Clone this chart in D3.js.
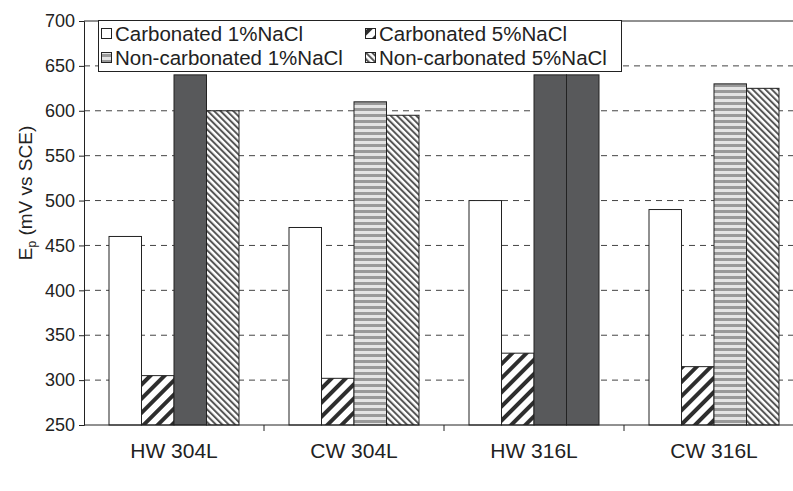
<!DOCTYPE html>
<html><head><meta charset="utf-8">
<script src="https://cdn.jsdelivr.net/npm/d3@7"></script>
<style>body{margin:0;background:#fff}svg{display:block;font-family:"Liberation Sans",Arial,sans-serif}</style>
</head><body><svg id="c" width="793" height="491"></svg>
<script>
const categories = ["HW 304L", "CW 304L", "HW 316L", "CW 316L"];
const seriesNames = ["Carbonated 1%NaCl", "Carbonated 5%NaCl", "Non-carbonated 1%NaCl", "Non-carbonated 5%NaCl"];
const carb1 = [460, 470, 500, 490];
const carb5 = [305, 302, 330, 315];
const noncarb1 = [640, 610, 640, 630];
const noncarb5 = [600, 595, 640, 625];
const yTicks = [250, 300, 350, 400, 450, 500, 550, 600, 650, 700];
const series = [carb1, carb5, noncarb1, noncarb5];

const svg = d3.select("#c");
const m = {l: 84, t: 21, r: 804, b: 425};
const x = d3.scaleBand().domain(categories).range([m.l, m.r]);
const xs = d3.scaleBand().domain(d3.range(4)).range([25, 155]);
const y = d3.scaleLinear().domain([250, 700]).range([m.b, m.t]);

const defs = svg.append("defs");
const p1 = defs.append("pattern").attr("id","pw").attr("patternUnits","userSpaceOnUse")
  .attr("width",10).attr("height",10).attr("patternTransform","rotate(45)");
p1.append("rect").attr("width",10).attr("height",10).attr("fill","#fff");
p1.append("rect").attr("width",4).attr("height",10).attr("fill","#2e2e2e");
const p2 = defs.append("pattern").attr("id","ph").attr("patternUnits","userSpaceOnUse")
  .attr("width",6).attr("height",6);
p2.append("rect").attr("width",6).attr("height",6).attr("fill","#e4e4e4");
p2.append("rect").attr("width",6).attr("height",3).attr("fill","#9a9a9a");
const p3 = defs.append("pattern").attr("id","pf").attr("patternUnits","userSpaceOnUse")
  .attr("width",4.5).attr("height",4.5).attr("patternTransform","rotate(-45)");
p3.append("rect").attr("width",4.5).attr("height",4.5).attr("fill","#fff");
p3.append("rect").attr("width",2).attr("height",4.5).attr("fill","#555");

const fills = ["#fff", "url(#pw)", "url(#ph)", "url(#pf)"];
const darkFill = "#58595b";

svg.append("g").selectAll("line").data(yTicks.filter(d => d > 250 && d < 700)).join("line")
  .attr("x1", m.l).attr("x2", m.r).attr("y1", d => y(d)).attr("y2", d => y(d))
  .attr("stroke", "#444").attr("stroke-width", 1).attr("stroke-dasharray", "6,5");

series.forEach((vals, si) => {
  svg.append("g").selectAll("rect").data(vals).join("rect")
    .attr("x", (d, i) => x(categories[i]) + xs(si))
    .attr("width", xs.bandwidth())
    .attr("y", d => y(d))
    .attr("height", d => y(250) - y(d))
    .attr("fill", d => d >= 640 ? darkFill : fills[si])
    .attr("stroke", "#222").attr("stroke-width", 1);
});

const yAxis = svg.append("g").attr("transform", `translate(${m.l},0)`)
  .call(d3.axisLeft(y).tickValues(yTicks).tickSize(5).tickPadding(4));
yAxis.select(".domain").attr("stroke", "#222");
yAxis.selectAll(".tick line").attr("stroke", "#222");
yAxis.selectAll("text").attr("font-size", 18).attr("fill", "#222").attr("font-family", "Liberation Sans, Arial, sans-serif");

const xAxis = svg.append("g").attr("transform", `translate(0,${m.b})`)
  .call(d3.axisBottom(x).tickSize(0).tickPadding(18));
xAxis.select(".domain").remove();
xAxis.selectAll("text").attr("font-size", 21).attr("fill", "#222").attr("font-family", "Liberation Sans, Arial, sans-serif");
svg.append("line").attr("x1", m.l).attr("x2", m.r).attr("y1", m.b).attr("y2", m.b).attr("stroke", "#222");
svg.append("g").selectAll("line").data(categories.slice(1)).join("line")
  .attr("x1", d => x(d)).attr("x2", d => x(d)).attr("y1", m.b).attr("y2", m.b + 6).attr("stroke", "#222");
svg.append("line").attr("x1", m.l).attr("x2", m.r).attr("y1", m.t).attr("y2", m.t).attr("stroke", "#222");

svg.append("text").attr("transform", "translate(32,193) rotate(-90)").attr("text-anchor", "middle")
  .attr("font-size", 19).attr("fill", "#222")
  .html('E<tspan font-size="12" dy="4">p</tspan><tspan dy="-4"> (mV vs SCE)</tspan>');

const lg = svg.append("g");
lg.append("rect").attr("x", 98.5).attr("y", 20.5).attr("width", 523).attr("height", 51)
  .attr("fill", "#fff").attr("stroke", "#222");
const lpos = [[101, 34], [365, 34], [101, 58], [365, 58]];
seriesNames.forEach((n, i) => {
  const [lx, ly] = lpos[i];
  lg.append("rect").attr("x", lx + 0.5).attr("y", ly - 5.5).attr("width", 10).attr("height", 10)
    .attr("fill", fills[i]).attr("stroke", "#222");
  lg.append("text").attr("x", lx + 14).attr("y", ly + 7).attr("font-size", 20.5).attr("fill", "#222").text(n);
});
</script></body></html>
